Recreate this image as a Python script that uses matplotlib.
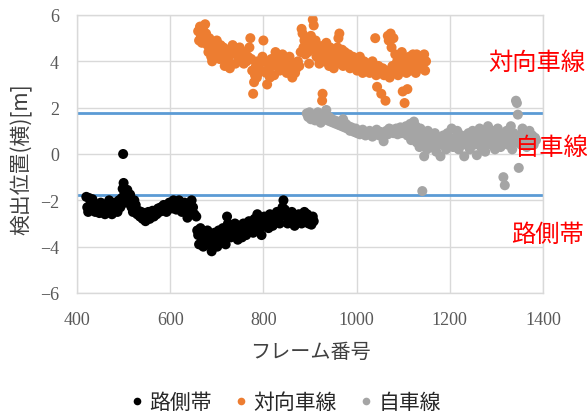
import matplotlib
matplotlib.use("Agg")
import matplotlib.pyplot as plt
from matplotlib.lines import Line2D

plt.rcParams['font.family'] = ['Noto Sans CJK JP', 'DejaVu Sans']

# ---- data ----
road_x = [420, 422, 424, 426, 428, 431, 433, 436, 439, 442, 445, 448, 451, 454, 457, 460, 463, 466, 469, 472,
          475, 478, 481, 484, 487, 490, 493, 496, 498, 499, 500, 502, 505, 508, 511, 514, 517, 520, 523, 526,
          529, 532, 535, 538, 541, 544, 547, 550, 553, 556, 559, 562, 565, 568, 571, 574, 577, 580, 583, 586,
          589, 592, 595, 598, 601, 604, 607, 610, 613, 616, 619, 622, 625, 628, 631, 634, 637, 640, 643, 646,
          649, 652, 656, 658, 660, 662, 665, 668, 671, 674, 677, 680, 683, 686, 689, 692, 695, 698, 701, 704,
          707, 710, 713, 716, 719, 722, 724, 727, 730, 733, 736, 739, 742, 745, 748, 751, 754, 757, 760, 763,
          766, 769, 772, 775, 778, 781, 784, 787, 790, 793, 796, 799, 802, 805, 808, 811, 814, 817, 820, 823,
          826, 829, 832, 835, 838, 841, 843, 846, 849, 852, 855, 858, 861, 864, 867, 870, 873, 876, 879, 882,
          885, 888, 891, 894, 897, 900, 903, 906, 908]
road_y = [-1.85, -2.3, -2.5, -1.9, -2.2, -2.4, -1.95, -2.3, -2.5, -2.2, -2.35, -2.55, -2.1, -2.3, -2.45, -2.6, -2.2, -2.35, -2.0, -2.4,
          -2.6, -2.2, -2.1, -2.4, -2.5, -2.0, -2.3, -1.9, -1.5, 0.0, -1.25, -1.7, -2.1, -1.55, -2.0, -1.75, -2.3, -2.5, -2.0, -2.2,
          -2.6, -2.45, -2.7, -2.5, -2.8, -2.55, -2.9, -2.7, -2.5, -2.8, -2.6, -2.45, -2.7, -2.5, -2.6, -2.35, -2.5, -2.3, -2.45, -2.2,
          -2.4, -2.5, -2.3, -2.1, -2.2, -2.35, -2.0, -2.25, -2.4, -2.1, -2.0, -2.3, -2.5, -2.2, -2.1, -2.4, -2.75, -2.5, -2.2, -2.0,
          -2.3, -2.6, -2.7, -3.3, -3.5, -3.9, -3.2, -3.6, -4.0, -3.4, -3.7, -3.3, -3.9, -3.5, -4.2, -3.8, -3.4, -3.6, -4.0, -3.3,
          -3.7, -3.5, -3.2, -3.6, -3.9, -2.7, -3.0, -3.4, -3.6, -3.2, -3.5, -3.0, -3.3, -3.7, -3.1, -3.4, -3.6, -3.0, -3.3, -3.5,
          -3.1, -2.9, -3.3, -3.0, -3.4, -2.8, -3.1, -2.6, -2.9, -3.2, -3.5, -3.1, -2.7, -3.0, -2.8, -3.2, -2.6, -2.9, -3.1, -2.7,
          -2.9, -2.5, -2.8, -3.0, -2.6, -2.3, -2.0, -2.4, -2.7, -3.0, -2.6, -2.8, -2.5, -2.9, -3.1, -2.7, -2.9, -2.6, -2.8, -3.0,
          -2.7, -2.5, -2.9, -2.6, -3.0, -2.8, -3.05, -2.7, -2.9]

opp_x = [660, 662, 664, 666, 668, 670, 673, 675, 677, 680, 682, 684, 686, 688, 690, 692, 694, 696, 698, 700,
         703, 706, 708, 711, 714, 717, 719, 722, 725, 728, 731, 734, 737, 740, 743, 746, 749, 752, 755, 758,
         761, 764, 767, 770, 772, 774, 776, 778, 780, 782, 784, 786, 788, 790, 792, 795, 798, 800, 803, 806,
         808, 811, 814, 817, 820, 823, 826, 829, 832, 835, 838, 841, 844, 847, 850, 853, 856, 859, 862, 865,
         868, 871, 874, 877, 880, 882, 884, 886, 888, 890, 892, 894, 896, 898, 900, 902, 904, 906, 908, 910,
         912, 914, 916, 918, 920, 922, 924, 926, 927, 929, 931, 933, 935, 937, 939, 941, 943, 945, 947, 949,
         951, 953, 955, 957, 959, 961, 963, 965, 967, 969, 971, 973, 975, 977, 980, 983, 986, 989, 992, 995,
         998, 1001, 1004, 1007, 1010, 1013, 1016, 1019, 1022, 1025, 1028, 1031, 1034, 1037, 1040, 1042, 1044, 1047, 1050, 1053,
         1056, 1059, 1062, 1065, 1067, 1069, 1071, 1073, 1075, 1077, 1079, 1081, 1083, 1085, 1087, 1089, 1091, 1093, 1095, 1097,
         1099, 1101, 1103, 1105, 1107, 1109, 1111, 1113, 1115, 1117, 1119, 1121, 1123, 1125, 1127, 1129, 1131, 1133, 1135, 1137,
         1139, 1141, 1143, 1145, 1147, 1149]
opp_y = [5.3, 4.9, 5.5, 5.1, 4.8, 5.4, 5.0, 5.6, 5.2, 4.7, 4.4, 5.0, 4.6, 4.2, 4.0, 4.5, 4.8, 4.3, 4.6, 4.9,
         4.4, 4.1, 4.7, 4.3, 4.6, 3.8, 4.2, 4.5, 4.0, 3.7, 4.3, 4.7, 4.4, 3.9, 4.5, 4.2, 4.6, 4.1, 4.3, 3.9,
         4.4, 4.0, 4.2, 4.6, 5.0, 4.1, 3.6, 2.6, 3.1, 3.4, 3.8, 3.3, 4.0, 3.5, 3.9, 3.6, 4.2, 4.9, 4.0, 3.5,
         3.0, 3.7, 3.3, 4.1, 3.8, 3.4, 4.4, 4.2, 3.9, 3.6, 4.0, 4.3, 3.7, 4.1, 3.5, 3.8, 4.2, 3.6, 3.3, 3.9,
         3.5, 3.7, 4.0, 3.8, 4.4, 5.4, 5.2, 4.6, 4.9, 4.3, 4.7, 5.0, 4.4, 3.9, 4.6, 5.1, 4.8, 5.8, 5.55, 4.5,
         4.9, 4.2, 4.7, 4.4, 3.9, 4.6, 4.3, 2.3, 2.6, 4.0, 4.7, 4.4, 4.8, 4.1, 4.5, 3.8, 4.6, 4.3, 4.0, 4.5,
         3.7, 4.2, 4.4, 3.9, 4.6, 5.0, 5.2, 4.3, 4.0, 4.5, 3.8, 4.2, 4.4, 3.9, 4.1, 4.3, 3.7, 4.0, 4.2, 3.8,
         4.1, 3.6, 3.9, 4.2, 3.7, 3.5, 4.0, 3.8, 3.6, 3.9, 3.5, 3.7, 4.0, 3.6, 5.0, 3.4, 2.9, 3.8, 3.5, 2.6,
         3.7, 3.4, 2.3, 3.6, 5.1, 4.9, 3.3, 5.2, 4.6, 3.8, 5.0, 3.5, 4.3, 3.7, 4.0, 3.4, 4.2, 3.9, 3.6, 4.4,
         2.7, 3.8, 2.2, 4.1, 3.5, 2.8, 3.9, 4.2, 3.6, 4.0, 3.7, 4.3, 3.8, 4.1, 3.5, 4.3, 3.9, 4.0, 3.7, 4.2,
         3.8, 4.1, 3.9, 4.3, 3.6, 4.0]

own_x = [893, 896, 899, 902, 905, 908, 911, 914, 917, 920, 923, 926, 929, 932, 935, 938, 941, 944, 947, 950,
         953, 956, 959, 962, 965, 968, 971, 974, 977, 980, 983, 986, 989, 992, 995, 998, 1001, 1004, 1007, 1010,
         1013, 1016, 1019, 1022, 1025, 1028, 1031, 1034, 1037, 1040, 1043, 1046, 1049, 1052, 1055, 1058, 1061, 1064, 1067, 1070,
         1073, 1076, 1079, 1082, 1085, 1088, 1091, 1094, 1097, 1100, 1103, 1106, 1109, 1112, 1115, 1117, 1119, 1121, 1123, 1125,
         1127, 1129, 1131, 1133, 1135, 1137, 1139, 1141, 1143, 1145, 1147, 1149, 1151, 1153, 1156, 1159, 1162, 1165, 1168, 1171,
         1174, 1177, 1180, 1183, 1186, 1189, 1192, 1195, 1198, 1201, 1204, 1207, 1210, 1213, 1216, 1219, 1222, 1225, 1228, 1231,
         1234, 1237, 1240, 1243, 1246, 1249, 1252, 1255, 1258, 1261, 1264, 1267, 1270, 1273, 1276, 1279, 1282, 1285, 1288, 1291,
         1294, 1297, 1300, 1303, 1306, 1309, 1312, 1315, 1318, 1320, 1322, 1325, 1328, 1331, 1334, 1337, 1340, 1342, 1344, 1346,
         1348, 1350, 1353, 1356, 1359, 1362, 1365, 1368, 1371, 1374, 1377, 1380, 1383, 1385]
own_y = [1.75, 1.6, 1.8, 1.5, 1.7, 1.55, 1.45, 1.65, 1.8, 1.5, 1.35, 1.6, 1.7, 1.55, 1.9, 1.45, 1.6, 1.4, 1.5, 1.35,
         1.45, 1.3, 1.4, 1.25, 1.35, 1.2, 1.5, 1.15, 1.3, 1.1, 1.2, 1.0, 1.15, 1.05, 0.95, 1.1, 0.9, 1.0, 0.85, 0.95,
         1.05, 0.9, 0.8, 0.95, 0.85, 1.0, 0.9, 0.75, 0.95, 0.85, 1.05, 0.9, 0.8, 0.95, 0.85, 0.55, 0.9, 1.0, 0.85, 1.1,
         0.95, 1.05, 0.9, 1.0, 1.1, 0.85, 1.0, 1.15, 0.9, 1.05, 0.95, 1.2, 0.8, 1.0, 1.3, 0.6, 1.1, 0.9, 1.4, 0.7,
         1.2, 0.5, 1.0, 0.8, 0.3, 1.1, 0.6, -1.6, 0.9, -0.1, 0.4, 0.75, 0.2, 1.0, 0.5, 0.8, 0.3, 0.6, 0.9, 0.1,
         0.5, 0.7, -0.1, 0.4, 0.8, 0.6, 0.2, 0.9, 0.4, 0.6, 1.1, 0.3, 0.7, 0.5, 1.0, 0.2, 0.6, 0.8, 0.4, -0.1,
         0.7, 0.5, 0.9, 0.2, 0.6, 1.0, 0.4, 0.8, -0.05, 0.6, 1.1, 0.3, 0.7, 0.9, 0.1, 0.5, 1.2, 0.8, 0.4, 1.0,
         0.6, 0.2, 0.9, 1.1, 0.5, 0.3, 0.8, -1.0, -1.35, 0.6, 1.0, 0.4, 0.7, 1.2, 0.2, 0.9, 0.5, 2.3, 2.2, 1.7,
         -0.6, 0.8, 0.4, 1.1, 0.6, 0.9, 0.3, 0.7, 1.0, 0.5, 0.8, 0.4, 0.7, 0.6]

lane_lines = [1.75, -1.75]
x_ticks = [400, 600, 800, 1000, 1200, 1400]
y_ticks = [-6, -4, -2, 0, 2, 4, 6]
series_names = ['路側帯', '対向車線', '自車線']
series_colors = ['#000000', '#ed7d31', '#a5a5a5']
region_labels = ['対向車線', '自車線', '路側帯']

# ---- figure ----
W, H = 587, 414
fig = plt.figure(figsize=(W / 100, H / 100), dpi=100)
ax = fig.add_axes([77 / W, 1 - 294 / H, 466 / W, 278 / H])

ax.set_xlim(400, 1400)
ax.set_ylim(-6, 6)
ax.set_xticks(x_ticks)
ax.set_yticks(y_ticks)
ax.grid(True, color='#d9d9d9', linewidth=1.0, zorder=0)
ax.set_axisbelow(True)
for sp in ax.spines.values():
    sp.set_color('#d9d9d9')
    sp.set_linewidth(1.0)
ax.tick_params(length=0, labelsize=13, labelcolor='#595959', pad=13)
for lab in ax.get_xticklabels() + ax.get_yticklabels():
    lab.set_fontfamily('Liberation Serif')

for v in lane_lines:
    ax.axhline(v, color='#5b9bd5', linewidth=2.0, zorder=1)

data = [(road_x, road_y), (opp_x, opp_y), (own_x, own_y)]
for (xs, ys), c in zip(data, series_colors):
    ax.scatter(xs, ys, s=52, color=c, edgecolors='none', zorder=2)

fig.text(22 / W, 1 - 159 / H, '検出位置(横)[m]', rotation=90, ha='center', va='center',
         fontsize=15, color='#404040')
fig.text(310 / W, 1 - 352 / H, 'フレーム番号', ha='center', va='center',
         fontsize=14.5, color='#404040')

label_pos = [(488, 63), (515, 148), (511, 235)]
for txt, (px, py) in zip(region_labels, label_pos):
    fig.text(px / W, 1 - py / H, txt, ha='left', va='center', fontsize=17.5, color='#ff0000')

handles = [Line2D([], [], linestyle='none', marker='o', markersize=5.5, markerfacecolor=c,
                  markeredgecolor='none') for c in series_colors]
fig.legend(handles, series_names, loc='center', bbox_to_anchor=(285 / W, 1 - 403 / H), ncol=3,
           frameon=False, fontsize=15, labelcolor='#262626', handletextpad=0.2,
           columnspacing=1.0, handlelength=0.8)

fig.savefig('out.png', dpi=100)
